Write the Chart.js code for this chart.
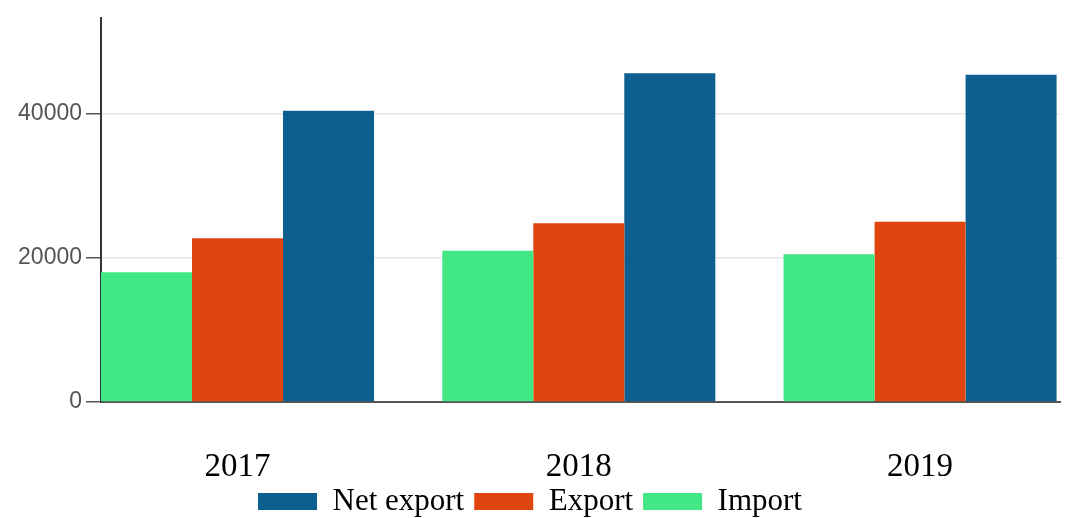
<!DOCTYPE html>
<html>
<head>
<meta charset="utf-8">
<style>
    html, body { margin: 0; padding: 0; width: 1071px; height: 518px; overflow: hidden; background: #fff; }
    #wrap { position: relative; width: 1071px; height: 527px; }
</style>
</head>
<body>
<script src="https://cdn.jsdelivr.net/npm/chart.js@4/dist/chart.umd.min.js"></script>
<div id="wrap"><canvas id="bar-chart"></canvas></div>

<script>
    var years = ["2017", "2018", "2019"];
    var import_vals = [18000, 21000, 20500];
    var export_vals = [22700, 24800, 25000];
    var net_vals = [40400, 45600, 45400];
    var y_ticks = [0, 20000, 40000];

    function to_points(vals) {
        return vals.map(function (v, i) { return {x: i, y: v}; });
    }

    new Chart(document.getElementById("bar-chart"), {
        type: 'bar',
        data: {
            datasets: [{
                label: "Import",
                data: to_points(import_vals),
                backgroundColor: "#42e886",
                borderWidth: 0
            }, {
                label: "Export",
                data: to_points(export_vals),
                backgroundColor: "#e0450f",
                borderWidth: 0
            }, {
                label: "Net export",
                data: to_points(net_vals),
                backgroundColor: "#0c5f8e",
                borderWidth: 0
            }]
        },
        options: {
            responsive: true,
            maintainAspectRatio: false,
            animation: false,
            layout: { padding: { top: 17, left: 0, right: 11, bottom: 0 } },
            datasets: { bar: { barPercentage: 1, categoryPercentage: 0.8 } },
            plugins: {
                tooltip: { enabled: false },
                legend: {
                    position: 'bottom',
                    reverse: true,
                    labels: {
                        boxWidth: 59,
                        boxHeight: 17,
                        padding: 10,
                        color: '#000',
                        font: { family: "'Liberation Serif', 'Times New Roman', serif", size: 31 }
                    }
                }
            },
            scales: {
                x: {
                    type: 'linear',
                    min: -0.4,
                    max: 2.41,
                    offset: false,
                    grid: { drawOnChartArea: false, drawTicks: false, offset: false },
                    border: { color: '#555', width: 2 },
                    afterBuildTicks: function (scale) {
                        scale.ticks = years.map(function (y, i) { return {value: i}; });
                    },
                    afterFit: function (scale) { scale.height = 74; },
                    ticks: {
                        padding: 46,
                        color: '#000',
                        font: { family: "'Liberation Serif', 'Times New Roman', serif", size: 33 },
                        callback: function (val) { return years[val]; }
                    }
                },
                y: {
                    min: 0,
                    max: 53300,
                    afterFit: function (scale) { scale.width = 101; },
                    afterBuildTicks: function (scale) {
                        scale.ticks = y_ticks.map(function (v) { return {value: v}; });
                    },
                    grid: { color: '#e6e6e6', tickColor: '#555', tickLength: 15, lineWidth: 1.5 },
                    border: { color: '#333', width: 2 },
                    ticks: {
                        padding: 4,
                        color: '#555',
                        font: { family: "'Liberation Sans', Arial, sans-serif", size: 23 },
                        callback: function (val) { return String(val); }
                    }
                }
            }
        }
    });
</script>
</body>
</html>
